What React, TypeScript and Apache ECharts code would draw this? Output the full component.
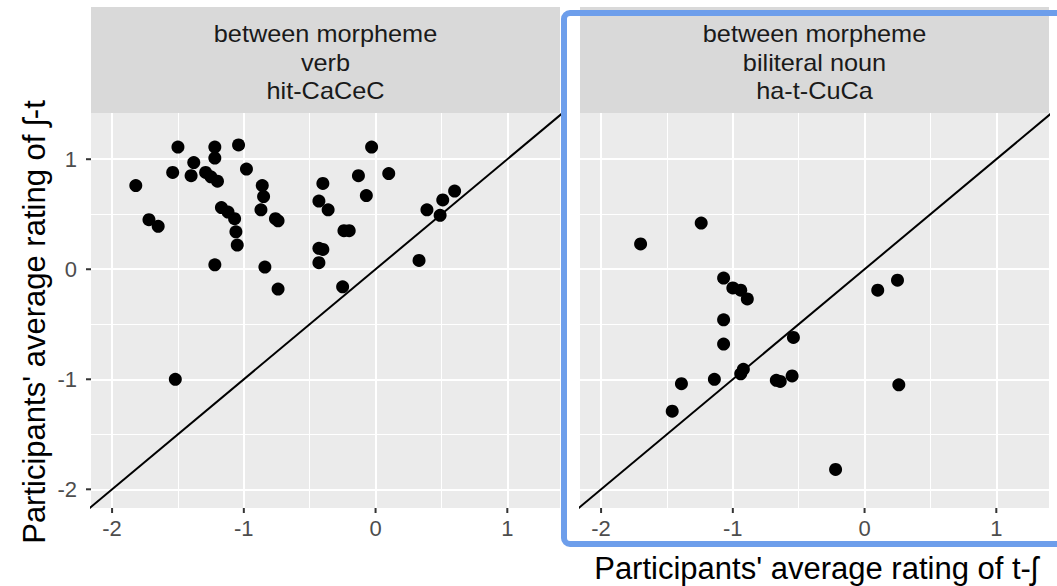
import React, { useEffect, useRef } from "react";
import * as echarts from "echarts";

// Axis ranges and ticks
const X_MIN = -2.16;
const X_MAX = 1.4;
const Y_MIN = -2.17;
const Y_MAX = 1.42;
const TICKS = [-2, -1, 0, 1];
const MAJOR_GRID = [-2, -1, 0, 1];
const MINOR_GRID = [-1.5, -0.5, 0.5];
const Y_MAJOR_GRID = [-2, -1, 0, 1];
const Y_MINOR_GRID = [-1.5, -0.5, 0.5];

// Facet strip labels
const leftStrip = ["between morpheme", "verb", "hit-CaCeC"];
const rightStrip = ["between morpheme", "biliteral noun", "ha-t-CuCa"];

// Left panel: rating of t-ʃ (x) vs ʃ-t (y)
const leftX = [
  -1.5, -1.22, -1.22, -1.04, -1.38, -1.54, -1.4, -1.29, -1.25, -1.2,
  -1.82, -0.98, -0.86, -0.85, -0.87, -0.76, -0.74, -1.72, -1.65, -1.17,
  -1.12, -1.07, -1.06, -1.05, -1.22, -0.84, -0.74, -0.4, -0.43, -0.36,
  -0.24, -0.2, -0.43, -0.4, -0.43, -0.25, -0.03, -0.13, -0.07, 0.1,
  0.33, 0.39, 0.51, 0.6, 0.49, -1.52,
];
const leftY = [
  1.11, 1.11, 1.01, 1.13, 0.97, 0.88, 0.85, 0.88, 0.84, 0.8,
  0.76, 0.91, 0.76, 0.66, 0.54, 0.46, 0.44, 0.45, 0.39, 0.56,
  0.52, 0.46, 0.34, 0.22, 0.04, 0.02, -0.18, 0.78, 0.62, 0.54,
  0.35, 0.35, 0.19, 0.18, 0.06, -0.16, 1.11, 0.85, 0.67, 0.87,
  0.08, 0.54, 0.63, 0.71, 0.49, -1.0,
];

// Right panel
const rightX = [
  -1.7, -1.24, -1.07, -1.0, -0.94, -0.89, -1.07, -1.07, -1.14, -1.39,
  -1.46, -0.94, -0.92, -0.54, -0.67, -0.64, -0.55, -0.22, 0.1, 0.25, 0.26,
];
const rightY = [
  0.23, 0.42, -0.08, -0.17, -0.19, -0.27, -0.46, -0.68, -1.0, -1.04,
  -1.29, -0.95, -0.91, -0.62, -1.01, -1.02, -0.97, -1.82, -0.19, -0.1, -1.05,
];

const DIAG = [-2.3, 1.5];

const FONT = "'Liberation Sans', Arial, Helvetica, sans-serif";

function gridLines() {
  const data: any[] = [];
  MAJOR_GRID.forEach((v) => data.push({ xAxis: v, lineStyle: { width: 2 } }));
  MINOR_GRID.forEach((v) => data.push({ xAxis: v, lineStyle: { width: 1 } }));
  Y_MAJOR_GRID.forEach((v) => data.push({ yAxis: v, lineStyle: { width: 2 } }));
  Y_MINOR_GRID.forEach((v) => data.push({ yAxis: v, lineStyle: { width: 1 } }));
  return data;
}

const App: React.FC = () => {
  const ref = useRef<HTMLDivElement>(null);

  useEffect(() => {
    if (!ref.current) return;
    const chart = echarts.init(ref.current, undefined, { renderer: "svg" });

    const grids = [
      { left: 91, top: 113, width: 469, height: 395 },
      { left: 580, top: 113, width: 469, height: 395 },
    ];

    const xAxis = grids.map((_, i) => ({
      type: "value",
      gridIndex: i,
      position: "bottom",
      min: X_MIN,
      max: X_MAX,
      axisLine: { show: false, onZero: false },
      splitLine: { show: false },
      axisTick: { show: false },
      axisLabel: {
        show: true,
        customValues: TICKS,
        margin: 9,
        color: "#4d4d4d",
        fontSize: 22,
        fontFamily: FONT,
      },
    }));

    const yAxis = grids.map((_, i) => ({
      type: "value",
      gridIndex: i,
      position: "left",
      min: Y_MIN,
      max: Y_MAX,
      axisLine: { show: false, onZero: false },
      splitLine: { show: false },
      axisTick: { show: false },
      axisLabel: {
        show: i === 0,
        customValues: TICKS,
        margin: 14,
        color: "#4d4d4d",
        fontSize: 22,
        fontFamily: FONT,
      },
    }));

    const panels = [
      { xs: leftX, ys: leftY },
      { xs: rightX, ys: rightY },
    ];

    const series: any[] = [];
    panels.forEach((p, i) => {
      series.push({
        type: "line",
        xAxisIndex: i,
        yAxisIndex: i,
        data: [],
        z: 1,
        silent: true,
        markLine: {
          silent: true,
          z: 1,
          symbol: ["none", "none"],
          label: { show: false },
          animation: false,
          lineStyle: { color: "#ffffff", type: "solid" },
          emphasis: { disabled: true },
          data: gridLines(),
        },
      });
      series.push({
        type: "line",
        xAxisIndex: i,
        yAxisIndex: i,
        data: DIAG.map((v) => [v, v]),
        showSymbol: false,
        symbol: "none",
        clip: true,
        z: 3,
        silent: true,
        lineStyle: { color: "#000000", width: 2 },
      });
      series.push({
        type: "scatter",
        xAxisIndex: i,
        yAxisIndex: i,
        data: p.xs.map((x, k) => [x, p.ys[k]]),
        symbol: "circle",
        symbolSize: 13,
        z: 4,
        itemStyle: { color: "#000000", opacity: 1 },
      });
    });

    const graphic: any[] = [];
    const strips = [leftStrip, rightStrip];
    strips.forEach((lines, i) => {
      const g = grids[i];
      graphic.push({
        type: "rect",
        shape: { x: g.left, y: 7, width: g.width, height: 106 },
        style: { fill: "#d9d9d9" },
        z: 5,
      });
      lines.forEach((t, j) => {
        graphic.push({
          type: "text",
          x: g.left + g.width / 2,
          y: 34 + j * 28.5,
          scaleX: 1.1,
          style: {
            text: t,
            fill: "#1a1a1a",
            font: `23px ${FONT}`,
            textAlign: "center",
            textVerticalAlign: "middle",
          },
          z: 6,
        });
      });
    });

    graphic.push({
      type: "text",
      x: 34,
      y: 322,
      rotation: Math.PI / 2,
      style: {
        text: "Participants' average rating of ʃ-t",
        fill: "#000000",
        font: `31px ${FONT}`,
        textAlign: "center",
        textVerticalAlign: "middle",
      },
      z: 6,
    });
    graphic.push({
      type: "text",
      x: 816,
      y: 568,
      style: {
        text: "Participants' average rating of t-ʃ",
        fill: "#000000",
        font: `31px ${FONT}`,
        textAlign: "center",
        textVerticalAlign: "middle",
      },
      z: 6,
    });

    // Axis tick marks positioned through the chart's own scales
    const baseOption = {
      animation: false,
      backgroundColor: "#ffffff",
      grid: grids.map((g) => ({
        ...g,
        show: true,
        backgroundColor: "#ebebeb",
        borderWidth: 0,
        containLabel: false,
      })),
      xAxis,
      yAxis,
      series,
      graphic,
    };
    chart.setOption(baseOption);

    const tickGraphics: any[] = [];
    grids.forEach((g, i) => {
      TICKS.forEach((v) => {
        const pt = chart.convertToPixel({ xAxisIndex: i }, v) as number;
        const px = typeof pt === "number" && isFinite(pt) ? pt : null;
        if (px !== null) {
          tickGraphics.push({
            type: "rect",
            shape: { x: px - 1, y: g.top + g.height, width: 2, height: 5 },
            style: { fill: "#333333" },
            z: 50,
          });
        }
        if (i === 0) {
          const qy = chart.convertToPixel({ yAxisIndex: i }, v) as number;
          if (typeof qy === "number" && isFinite(qy)) {
            tickGraphics.push({
              type: "rect",
              shape: { x: g.left - 5, y: qy - 1, width: 5, height: 2 },
              style: { fill: "#333333" },
              z: 50,
            });
          }
        }
      });
    });
    tickGraphics.push({
      type: "rect",
      shape: { x: 564, y: 13, width: 520, height: 531, r: 6 },
      style: { fill: "none", stroke: "#6d9eeb", lineWidth: 6 },
      z: 100,
    });

    chart.setOption({ graphic: [...graphic, ...tickGraphics] });

    return () => chart.dispose();
  }, []);

  return (
    <div
      ref={ref}
      style={{ position: "fixed", left: 0, top: 0, width: 1057, height: 586 }}
    />
  );
};

export default App;
